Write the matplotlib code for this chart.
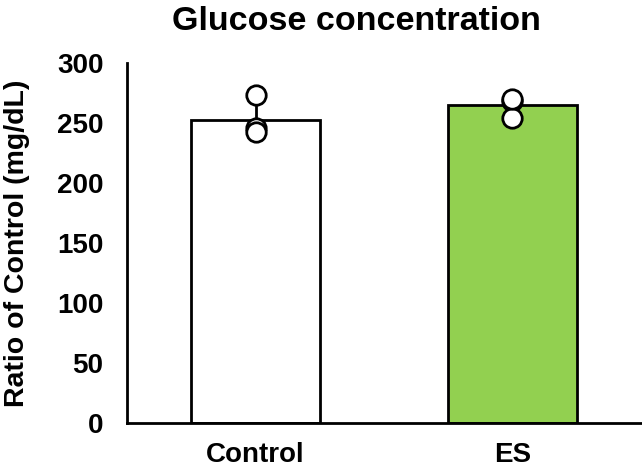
import matplotlib.pyplot as plt
import numpy as np

plt.rcParams['font.family'] = ['Liberation Sans', 'DejaVu Sans']
plt.rcParams['font.weight'] = 'bold'

groups = ['Control', 'ES']
means = [252, 265]
sds = [18, 7]
points = [[273, 246, 242], [268, 254, 270]]
colors = ['white', '#92D050']

fig = plt.figure(figsize=(6.42, 4.69), dpi=100)
ax = fig.add_axes([0.198, 0.098, 0.800, 0.768])

x = np.arange(len(groups))
ax.errorbar(x, means, yerr=[[0, 0], sds], fmt='none', ecolor='black',
            elinewidth=2, capsize=0, zorder=1)
ax.bar(x, means, width=0.5, color=colors, edgecolor='black', linewidth=2, zorder=2)
for i, pts in enumerate(points):
    ax.plot([x[i]] * len(pts), pts, 'o', markersize=14, markerfacecolor='white',
            markeredgecolor='black', markeredgewidth=2, zorder=3, clip_on=False)

ax.set_xlim(-0.5, 1.5)
ax.set_ylim(0, 300)
ax.set_yticks(range(0, 301, 50))
ax.set_xticks(x)
ax.set_xticklabels(groups, fontweight='bold')
ax.tick_params(axis='both', length=0)
ax.tick_params(axis='x', pad=14, labelsize=20)
ax.tick_params(axis='y', pad=17, labelsize=20)
for lab in ax.get_yticklabels():
    lab.set_fontweight('bold')

for s in ['top', 'right']:
    ax.spines[s].set_visible(False)
ax.spines['left'].set_linewidth(2)
ax.spines['bottom'].set_linewidth(2)

ax.set_ylabel('Ratio of Control (mg/dL)', fontsize=20.5, fontweight='bold')
ax.yaxis.set_label_coords(-0.19, 0.5)
fig.text(356 / 642, 0.955, 'Glucose concentration', fontsize=24.5,
         fontweight='bold', ha='center', va='center')

fig.savefig('out.png', dpi=100)
